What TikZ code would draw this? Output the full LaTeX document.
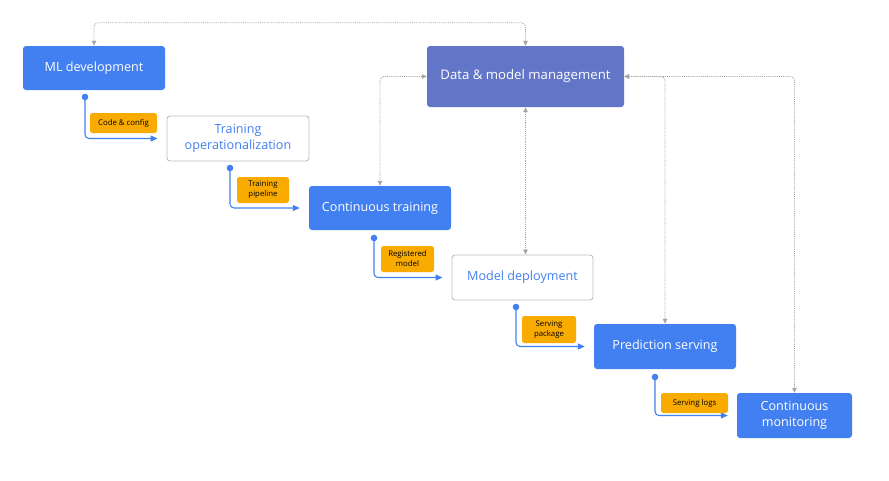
\documentclass[tikz,border=0pt]{standalone}
\usepackage{fontspec}
\setmainfont{Open Sans}
\usetikzlibrary{arrows.meta}
\definecolor{gblue}{RGB}{66,128,242}
\definecolor{gindigo}{RGB}{98,117,199}
\definecolor{gyellow}{RGB}{249,171,0}
\definecolor{gframe}{RGB}{190,190,190}
\definecolor{gdots}{RGB}{165,165,165}
\tikzset{
  stage/.style={rounded corners=3, minimum height=44, inner sep=0, align=center, font=\fontsize{12.6}{15.5}\selectfont},
  solidstage/.style={stage, fill=gblue, text=white},
  openstage/.style={stage, draw=gframe, line width=0.9, fill=white, text=gblue},
  hub/.style={stage, fill=gindigo, text=white, font=\fontsize{13.2}{16}\selectfont},
  tag/.style={rounded corners=2.5, fill=gyellow, inner sep=0, align=center, font=\fontsize{7.8}{10}\selectfont},
  flow/.style={draw=gblue, line width=1.1, rounded corners=4, -{Triangle[length=7pt,width=6pt]}, shorten >=9pt},
  sync/.style={draw=gdots, line width=0.8, dash pattern=on 0.9pt off 1pt, rounded corners=4, {Triangle[length=5pt,width=4.5pt]}-{Triangle[length=5pt,width=4.5pt]}}
}
\begin{document}
\begin{tikzpicture}[x=1pt,y=1pt,yscale=-1]
\useasboundingbox (0,0) rectangle (889,480);

\node[solidstage, minimum width=142] (mldev) at (94,68) {ML development};
\node[openstage, minimum width=142, minimum height=45] (trainop) at (238,138.5) {Training\\operationalization};
\node[solidstage, minimum width=142] (contrain) at (380,208) {Continuous training};
\node[openstage, minimum width=141, minimum height=45] (deploy) at (522.5,277.5) {Model deployment};
\node[solidstage, minimum width=142, minimum height=45] (serving) at (665,346.5) {Prediction serving};
\node[solidstage, minimum width=115, minimum height=45] (monitor) at (794.5,415.5) {Continuous\\monitoring};
\node[hub, minimum width=197, minimum height=61] (datamgmt) at (525.5,76.5) {Data \& model management};

% outputs
\coordinate (out1) at (85,97);
\coordinate (out2) at (230,168);
\coordinate (out3) at (374,238);
\coordinate (out4) at (516,307);
\coordinate (out5) at (655,377);
\foreach \p in {out1,out2,out3,out4,out5}
  \fill[gblue] (\p) circle (3.3);

\draw[flow] (out1) |- (trainop.west);
\draw[flow] (out2) |- (contrain.west);
\draw[flow] (out3) |- (deploy.west);
\draw[flow] (out4) |- (serving.west);
\draw[flow] (out5) |- (monitor.west);

\node[tag, minimum width=67, minimum height=20] (code) at (123.5,123) {Code \& config};
\node[tag, minimum width=52, minimum height=26] (pipe) at (263,190) {Training\\pipeline};
\node[tag, minimum width=53, minimum height=26] (model) at (407.5,259) {Registered\\model};
\node[tag, minimum width=54, minimum height=27] (pack) at (549,329.5) {Serving\\package};
\node[tag, minimum width=67, minimum height=20] (logs) at (694.5,403) {Serving logs};

% metadata links
\draw[sync] (mldev.north) -- ++(0,-23) -| (datamgmt.north);
\draw[sync] (datamgmt.west) -| (contrain.north);
\draw[sync] (datamgmt.south) -- (datamgmt.south |- deploy.north);
\draw[sync] (datamgmt.east) -| (serving.north);
\draw[sync] (datamgmt.east) -| (monitor.north);

\end{tikzpicture}
\end{document}
